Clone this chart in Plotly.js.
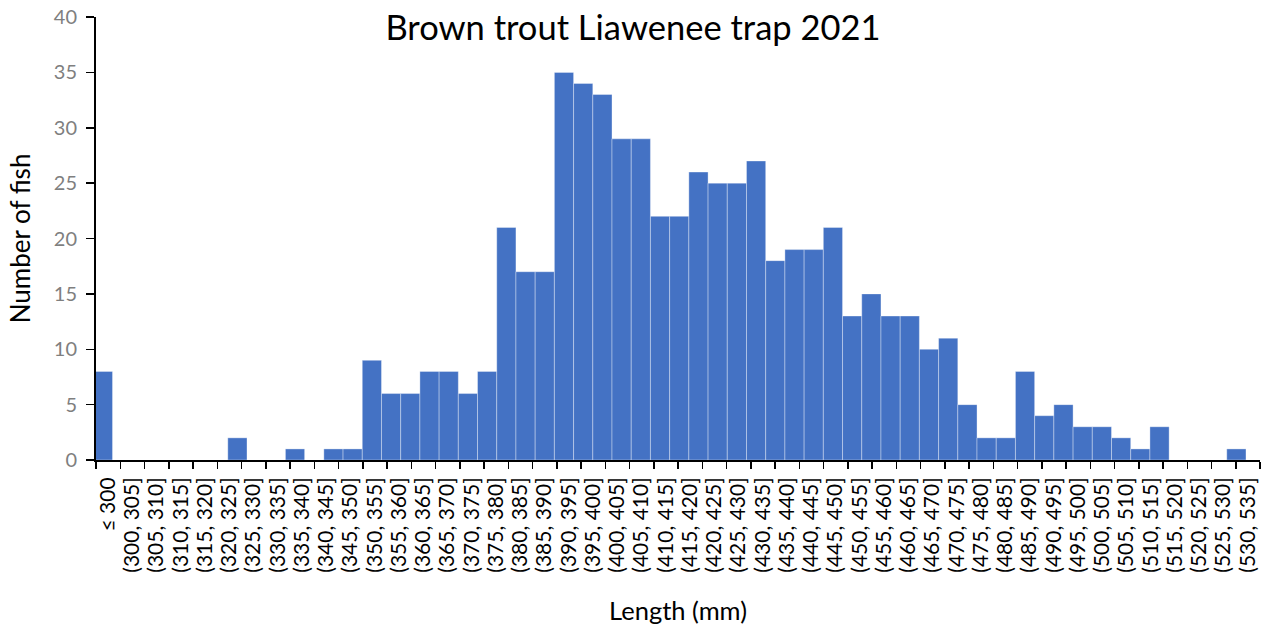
<!DOCTYPE html>
<html>
<head>
<meta charset="utf-8">
<script src="https://cdn.plot.ly/plotly-3.0.1.min.js"></script>
<style>html,body{margin:0;padding:0;background:#fff;}#chart{width:1272px;height:630px;}</style>
</head>
<body>
<div id="chart"></div>
<script>
// Tick labels shown on the category axis
const lengthLabels = ["≤ 300",
  "(300, 305]","(305, 310]","(310, 315]","(315, 320]","(320, 325]","(325, 330]","(330, 335]","(335, 340]",
  "(340, 345]","(345, 350]","(350, 355]","(355, 360]","(360, 365]","(365, 370]","(370, 375]","(375, 380]",
  "(380, 385]","(385, 390]","(390, 395]","(395, 400]","(400, 405]","(405, 410]","(410, 415]","(415, 420]",
  "(420, 425]","(425, 430]","(430, 435]","(435, 440]","(440, 445]","(445, 450]","(450, 455]","(455, 460]",
  "(460, 465]","(465, 470]","(470, 475]","(475, 480]","(480, 485]","(485, 490]","(490, 495]","(495, 500]",
  "(500, 505]","(505, 510]","(510, 515]","(515, 520]","(520, 525]","(525, 530]","(530, 535]"];

// Bar heights as drawn (60 bar slots, read left to right)
const fishCounts = [8,0,0,0,0,0,0,2,0,0,1,0,1,1,9,6,6,8,8,6,8,21,17,17,35,34,33,29,29,22,22,26,25,25,27,18,19,19,21,13,15,13,13,10,11,5,2,2,8,4,5,3,3,2,1,3,0,0,0,1];
const barSlots = fishCounts.map((_, i) => i);

const fontFam = "Lato, 'Noto Sans', sans-serif";

const traces = [
  {
    type: 'scatter', mode: 'markers', xaxis: 'x', yaxis: 'y',
    x: lengthLabels, y: lengthLabels.map(() => 0),
    marker: {opacity: 0, size: 1}, hoverinfo: 'skip', showlegend: false
  },
  {
    type: 'bar', xaxis: 'x2', yaxis: 'y',
    x: barSlots, y: fishCounts, width: 1,
    marker: {color: '#4472C4', line: {color: 'rgba(255,255,255,0.35)', width: 1}},
    cliponaxis: false, showlegend: false
  }
];

const layout = {
  width: 1272, height: 630,
  margin: {l: 96, r: 12, t: 17, b: 170},
  paper_bgcolor: '#fff', plot_bgcolor: '#fff',
  font: {family: fontFam, color: '#000'},
  title: {text: 'Brown trout Liawenee trap 2021', font: {family: fontFam, size: 34.5, color: '#000'},
          x: 0.4976, xref: 'container', xanchor: 'center', y: 0.955, yref: 'container', yanchor: 'middle'},
  bargap: 0,
  xaxis: {
    type: 'category', categoryorder: 'array', categoryarray: lengthLabels,
    range: [-0.5, lengthLabels.length - 0.5],
    tickmode: 'linear', tick0: 0, dtick: 1,
    tickson: 'boundaries', ticks: 'outside', ticklen: 7, tickwidth: 1.5, tickcolor: '#000',
    tickangle: -90, tickfont: {family: fontFam, size: 21, color: '#000'}, ticklabelstandoff: 7,
    showline: true, linecolor: '#000', linewidth: 2, showgrid: false, zeroline: false,
    title: {text: 'Length (mm)', font: {family: fontFam, size: 25.5, color: '#000'}, standoff: 30},
    fixedrange: true
  },
  xaxis2: {
    overlaying: 'x', anchor: 'y', visible: false, range: [-0.36, 60.23], fixedrange: true
  },
  yaxis: {
    range: [0, 40], dtick: 5, tick0: 0,
    ticks: 'outside', ticklen: 8, tickwidth: 1.5, tickcolor: '#000',
    tickfont: {family: fontFam, size: 20, color: '#7f7f7f'}, ticklabelstandoff: 5,
    showline: true, linecolor: '#000', linewidth: 2, showgrid: false, zeroline: false,
    title: {text: 'Number of fish', font: {family: fontFam, size: 26, color: '#000'}, standoff: 16},
    fixedrange: true
  }
};

Plotly.newPlot('chart', traces, layout, {displayModeBar: false, staticPlot: true});
</script>
</body>
</html>
